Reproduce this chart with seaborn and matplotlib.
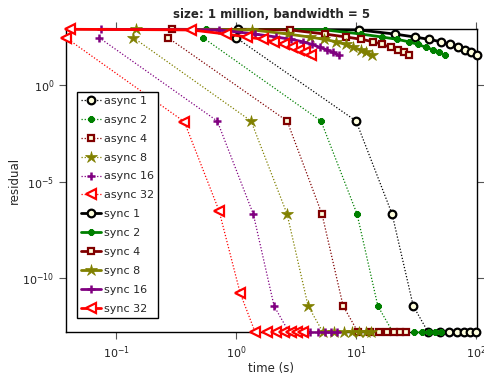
import matplotlib
matplotlib.use("Agg")
import matplotlib.pyplot as plt
import seaborn as sns

# times (s) per iteration
t_async1 = [1.0, 10.0, 20.0, 30.0, 40.0, 50.0, 60.0, 70.0, 80.0, 90.0, 100.0]
t_async2 = [0.53, 5.1, 10.2, 15.2, 20.3, 25.4, 30.5, 35.6, 40.6, 45.7, 50.8]
t_async4 = [0.27, 2.66, 5.2, 7.8, 10.4, 13.0, 15.6, 18.2, 20.8, 23.4, 26.0]
t_async8 = [0.139, 1.33, 2.66, 3.98, 5.3, 6.6, 8.0, 9.3, 10.6, 12.0, 13.3]
t_async16 = [0.072, 0.695, 1.39, 2.07, 2.76, 3.44, 4.13, 4.8, 5.5, 6.2, 6.9]
t_async32 = [0.038, 0.369, 0.72, 1.08, 1.44, 1.8, 2.16, 2.52, 2.88, 3.24, 3.6]

t_sync1 = [1.04, 10.5, 21.0, 31.0, 40.5, 51.0, 61.0, 70.5, 80.5, 91.0, 102.0]
t_sync2 = [0.56, 5.5, 11.0, 16.5, 22.0, 27.5, 33.0, 38.5, 44.0, 49.5, 55.0]
t_sync4 = [0.29, 2.8, 5.5, 8.3, 11.1, 13.9, 16.6, 19.4, 22.2, 24.9, 27.7]
t_sync8 = [0.147, 1.36, 2.7, 4.1, 5.4, 6.8, 8.2, 9.5, 10.9, 12.2, 13.6]
t_sync16 = [0.0745, 0.72, 1.43, 2.15, 2.87, 3.59, 4.3, 5.0, 5.7, 6.45, 7.17]
t_sync32 = [0.041, 0.42, 0.82, 1.24, 1.66, 2.08, 2.5, 2.92, 3.34, 3.76, 4.18]

# residuals
r_async = [290, 0.0141, 2.1e-7, 3.7e-12, 1.6e-13, 1.6e-13, 1.6e-13, 1.6e-13, 1.6e-13, 1.6e-13, 1.6e-13]
r_async32 = [290, 0.0129, 3.1e-7, 1.7e-11, 1.6e-13, 1.6e-13, 1.6e-13, 1.6e-13, 1.6e-13, 1.6e-13, 1.6e-13]
r_sync = [794, 741, 450, 316, 240, 180, 130, 92, 68, 50, 36]

labels_p = ["1", "2", "4", "8", "16", "32"]
colors = ["#000000", "#008000", "#800000", "#808000", "#800080", "#ff0000"]

sns.set_style("ticks")
plt.rcParams["font.family"] = ["DejaVu Sans"]

cream = "#ffffdd"
marker_styles = [
    dict(marker="o", markersize=5.5, markerfacecolor=cream, markeredgewidth=1.6),
    dict(marker=(8, 2, 0), markersize=4.5, markeredgewidth=2.2),
    dict(marker="s", markersize=4.5, markerfacecolor=cream, markeredgewidth=1.6),
    dict(marker="*", markersize=9, markeredgewidth=0.5),
    dict(marker="+", markersize=6, markeredgewidth=1.8),
    dict(marker="<", markersize=6.5, markerfacecolor="white", markeredgewidth=1.6),
]

fig = plt.figure(figsize=(4.85, 3.77), dpi=100)
ax = fig.add_axes([0.136, 0.1186, 0.8474, 0.8037])
ax.set_xscale("log")
ax.set_yscale("log")

async_times = [t_async1, t_async2, t_async4, t_async8, t_async16, t_async32]
sync_times = [t_sync1, t_sync2, t_sync4, t_sync8, t_sync16, t_sync32]

for i, p in enumerate(labels_p):
    r = r_async32 if p == "32" else r_async
    sns.lineplot(x=async_times[i], y=r, ax=ax, color=colors[i], linestyle=(0, (1, 1.5)),
                 linewidth=0.9, label=f"async {p}", clip_on=False, zorder=3,
                 markeredgecolor=colors[i], **marker_styles[i])

for i, p in enumerate(labels_p):
    sns.lineplot(x=sync_times[i], y=r_sync, ax=ax, color=colors[i], linestyle="-",
                 linewidth=2, label=f"sync {p}", clip_on=False, zorder=3,
                 markeredgecolor=colors[i], **marker_styles[i])

ax.set_xlim(0.038, 102)
ax.set_ylim(1.6e-13, 794)
ax.set_xticks([0.1, 1, 10, 100])
ax.set_yticks([1e-10, 1e-5, 1])
ax.minorticks_off()
ax.tick_params(which="both", direction="out", length=5, width=0.8, color="#555555",
               top=True, right=True, labelsize=8, labelcolor="#222222")
for s in ax.spines.values():
    s.set_linewidth(1)
    s.set_color("black")

ax.set_title("size: 1 million, bandwidth = 5", fontsize=8.5, fontweight="bold", pad=8)
ax.set_xlabel("time (s)", fontsize=8.5, labelpad=1)
ax.set_ylabel("residual", fontsize=8.5, labelpad=1)

leg = ax.legend(loc="upper left", bbox_to_anchor=(0.027, 0.793), fontsize=8,
                frameon=True, fancybox=False, edgecolor="black", framealpha=1,
                handlelength=1.8, handletextpad=0.3, labelspacing=0.8, borderpad=0.35,
                borderaxespad=0)
leg.get_frame().set_linewidth(1)

fig.savefig("out.png", dpi=100)
